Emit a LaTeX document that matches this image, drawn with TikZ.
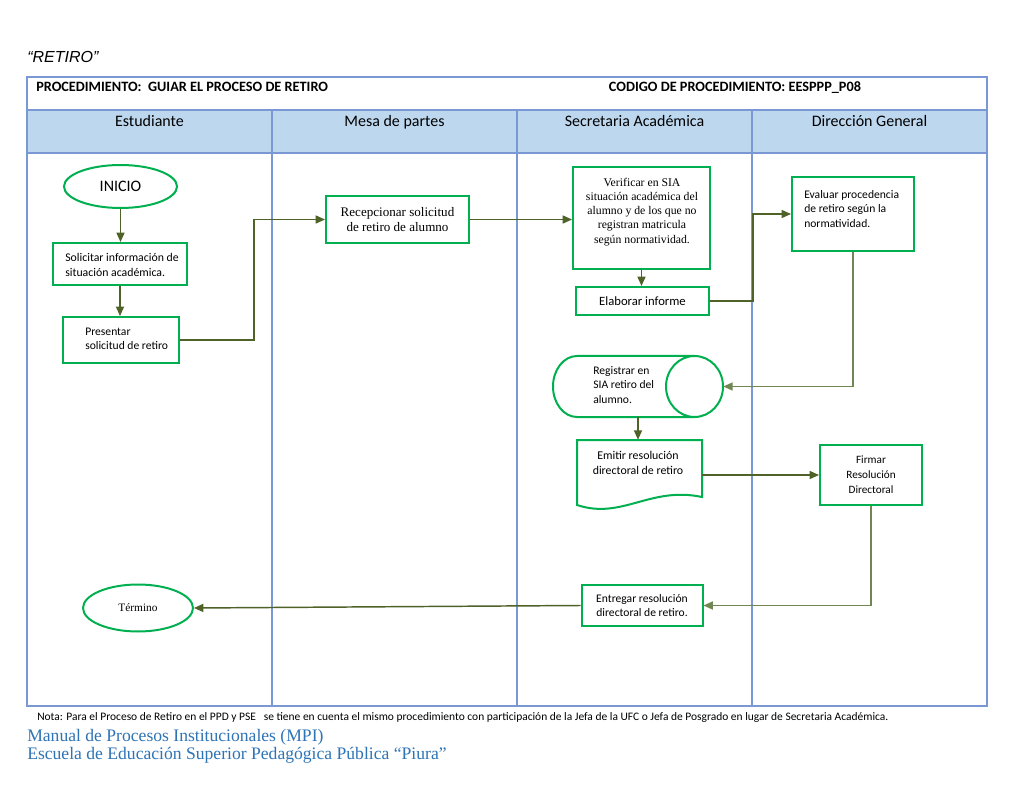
\documentclass[tikz,border=0pt]{standalone}
\usepackage{fontspec}
\setmainfont{Carlito}
\newfontfamily\tnr{Liberation Serif}
\newfontfamily\arl{Liberation Sans}
\usetikzlibrary{arrows.meta,shapes.geometric}
\definecolor{lanec}{RGB}{122,152,212}
\definecolor{headfill}{RGB}{189,215,238}
\definecolor{boxg}{RGB}{0,176,80}
\definecolor{arrg}{RGB}{79,98,40}
\definecolor{arrg2}{RGB}{112,135,84}
\definecolor{footb}{RGB}{46,116,181}
\newcommand\PX[1]{#1*0.75pt}
\begin{document}
\begin{tikzpicture}[x=0.75pt,y=-0.75pt,
  lane/.style={draw=lanec,line width=1.3pt},
  box/.style={draw=boxg,line width=1.5pt,fill=white,inner sep=0pt,align=center},
  outline/.style={draw=boxg,line width=1.5pt,fill=white},
  anchorbox/.style={inner sep=0pt},
  conn/.style={draw=arrg,line width=1.1pt,-{Triangle[length=7pt,width=6pt]}},
  conn2/.style={conn,draw=arrg2},
  btxt/.style={font=\fontsize{8.7}{10.9}\selectfont,inner sep=0pt},
  stxt/.style={font=\tnr\fontsize{8.8}{10.6}\selectfont,inner sep=0pt},
  lanelabel/.style={font=\fontsize{12}{14}\selectfont,inner sep=0pt,anchor=base},
  hdr/.style={font=\bfseries\fontsize{10.7}{12}\selectfont,inner sep=0pt}]
\useasboundingbox (0,0) rectangle (1024,791);
\fill[white] (0,0) rectangle (1024,791);

% title
\node[anchor=west,font=\arl\itshape\fontsize{12}{14}\selectfont,inner sep=0pt] (title) at (27,57) {“RETIRO”};

% table
\fill[headfill] (27,110) rectangle (987,153);
\draw[lane] (27,77) rectangle (987,706);
\draw[lane] (27,110) -- (987,110);
\draw[lane] (27,153) -- (987,153);
\foreach \x in {272,517,752} \draw[lane] (\x,110) -- (\x,706);

\node[hdr,anchor=base west] (proc) at (36,92) {PROCEDIMIENTO:\ \ GUIAR EL PROCESO DE RETIRO};
\node[hdr,anchor=base] (cod) at (735,92) {CODIGO DE PROCEDIMIENTO: EESPPP\_P08};
\node[lanelabel] (l1) at (149.5,127) {Estudiante};
\node[lanelabel] (l2) at (394.5,127) {Mesa de partes};
\node[lanelabel] (l3) at (634.5,127) {Secretaria Académica};
\node[lanelabel] (l4) at (869.5,127) {Dirección General};

% Estudiante
\node[ellipse,draw=boxg,line width=1.5pt,fill=white,inner sep=0pt,minimum width=\PX{113},minimum height=\PX{43},font=\fontsize{12}{14}\selectfont] (inicio) at (120.5,186.5) {INICIO};
\node[box,minimum width=\PX{134},minimum height=\PX{42}] (solic) at (120,264) {};
\node[btxt,anchor=west,align=left,font=\fontsize{8.85}{10.9}\selectfont] (solict) at (65,265) {Solicitar información de\\situación académica.};
\node[box,minimum width=\PX{116},minimum height=\PX{46}] (pres) at (121,340) {};
\node[btxt,anchor=west,align=left] (prest) at (85,339) {Presentar\\solicitud de retiro};

% Mesa de partes
\node[box,minimum width=\PX{143},minimum height=\PX{47},font=\tnr\fontsize{9.8}{11}\selectfont] (recep) at (397.5,219.5) {Recepcionar solicitud\\de retiro de alumno};

% Secretaria
\node[box,minimum width=\PX{137},minimum height=\PX{102}] (verif) at (641.5,218) {};
\node[stxt,align=center] (verift) at (642,212) {Verificar en SIA\\situación académica del\\alumno y de los que no\\registran matricula\\según normatividad.};
\node[box,minimum width=\PX{133},minimum height=\PX{28},font=\fontsize{9.5}{11}\selectfont] (elab) at (642.5,301) {Elaborar informe};

\node[anchorbox,minimum width=\PX{170},minimum height=\PX{61}] (reg) at (638,386.5) {};
\draw[outline] (694.5,356) -- (577,356) arc[start angle=270,end angle=90,x radius=24,y radius=30.5] -- (694.5,417);
\draw[outline] (694.5,386.5) ellipse [x radius=28.5, y radius=30.5];
\node[btxt,anchor=west,align=left] (regt) at (593,385) {Registrar en\\SIA retiro del\\alumno.};

\node[anchorbox,minimum width=\PX{125},minimum height=\PX{70}] (emit) at (639.5,475) {};
\draw[outline] (577,440) -- (702,440) -- (702,497) .. controls (650,486) and (622,520) .. (577,505) -- cycle;
\node[btxt,align=center,font=\fontsize{8.9}{11.2}\selectfont] (emitt) at (638,463) {Emitir resolución\\directoral de retiro};

\node[box,minimum width=\PX{121},minimum height=\PX{41},font=\fontsize{8.7}{10.9}\selectfont] (entr) at (642,605.5) {Entregar resolución\\directoral de retiro.};

% Direccion
\node[box,minimum width=\PX{122},minimum height=\PX{74}] (eval) at (853,214) {};
\node[btxt,anchor=west,align=left] (evalt) at (804,209) {Evaluar procedencia\\de retiro según la\\normatividad.};
\node[box,minimum width=\PX{102},minimum height=\PX{60},font=\fontsize{8.4}{11.2}\selectfont] (firm) at (871,475) {Firmar\\Resolución\\Directoral};

% Termino
\node[ellipse,draw=boxg,line width=1.5pt,fill=white,inner sep=0pt,minimum width=\PX{110},minimum height=\PX{47},font=\tnr\fontsize{8.5}{10}\selectfont] (term) at (138,608) {Término};

% connectors
\draw[conn] (inicio.south) -- (inicio.south |- solic.north);
\draw[conn] (solic.south) -- (solic.south |- pres.north);
\draw[conn] (pres.east) -- ++(74,0) |- (recep.west);
\draw[conn] (recep.east) -- (verif.west |- recep.east);
\draw[conn] (verif.south) -- (verif.south |- elab.north);
\draw[conn] (elab.east) -- ++(43,0) |- (eval.west);
\draw[conn2] (eval.south) |- (reg.east);
\draw[conn] (reg.south) -- (reg.south |- emit.north);
\draw[conn] (emit.east) -- (firm.west);
\draw[conn2] (firm.south) |- (entr.east);
\draw[conn] (entr.west) -- (term.east);

% footer
\node[anchor=west,font=\fontsize{8.6}{9}\selectfont,inner sep=0pt] (nota) at (37,718) {Nota: Para el Proceso de Retiro en el PPD y PSE\ \ \ se tiene en cuenta el mismo procedimiento con participación de la Jefa de la UFC o Jefa de Posgrado en lugar de Secretaria Académica.};
\node[anchor=west,font=\tnr\fontsize{13.2}{14}\selectfont,text=footb,inner sep=0pt] (man) at (27,737) {Manual de Procesos Institucionales (MPI)};
\node[anchor=west,font=\tnr\fontsize{13.2}{14}\selectfont,text=footb,inner sep=0pt] (esc) at (27,755) {Escuela de Educación Superior Pedagógica Pública “Piura”};
\end{tikzpicture}
\end{document}
